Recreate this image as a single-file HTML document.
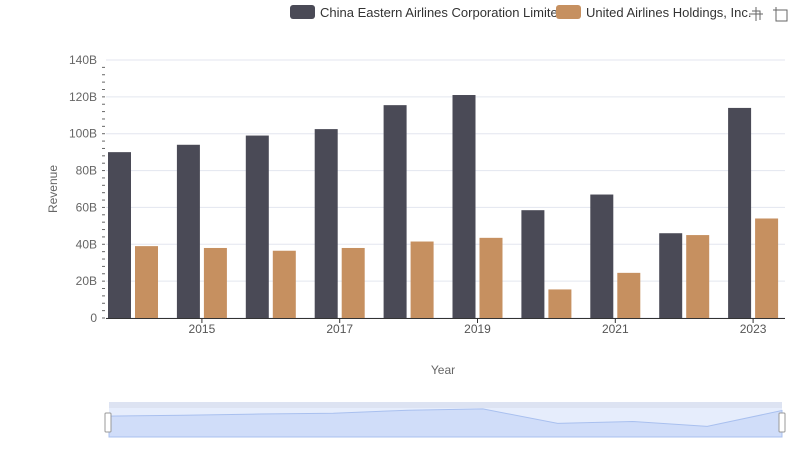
<!DOCTYPE html>
<html><head><meta charset="utf-8"><style>
body{margin:0;background:#fff;font-family:"Liberation Sans",sans-serif}
</style></head><body>
<svg id="c" width="800" height="461" xmlns="http://www.w3.org/2000/svg">
<g>
<rect x="290" y="5" width="25" height="14" rx="3" fill="#4a4a56"/>
<text x="320" y="17" font-size="13" fill="#333">China Eastern Airlines Corporation Limited</text>
<rect x="556" y="5" width="25" height="14" rx="3" fill="#c69060"/>
<text x="586" y="17" font-size="13" fill="#333">United Airlines Holdings, Inc.</text>
<g stroke="#666" fill="none" stroke-width="1"><path d="M749 14h14M756 7v14M752 11h8v9"/></g>
<g stroke="#666" fill="none" stroke-width="1"><path d="M776 10h11v11h-11zM776 10v-3M776 10h-3"/></g>
</g>
<g id="grid"></g>
<g id="bars"></g>
<g id="axes"></g>
<text x="57" y="189" font-size="12" fill="#666" text-anchor="middle" transform="rotate(-90 57 189)">Revenue</text>
<text x="443" y="374" font-size="12" fill="#666" text-anchor="middle">Year</text>
<g>
<rect x="109" y="402" width="673" height="6" fill="#dde3f2"/>
<rect x="109" y="408" width="673" height="29" fill="#e6edfc"/>
<path id="navArea" fill="#d0ddf9" stroke="#a9c0ef" stroke-width="1"/>
<rect x="105" y="413" width="6" height="19" rx="1" fill="#fff" stroke="#999"/>
<rect x="779" y="413" width="6" height="19" rx="1" fill="#fff" stroke="#999"/>
</g>
</svg>
<script>
const years=["2014","2015","2016","2017","2018","2019","2020","2021","2022","2023"];
const chinaEastern=[90,94,99,102.5,115.5,121,58.5,67,46,114];
const united=[39,38,36.5,38,41.5,43.5,15.5,24.5,45,54];
const yTicks=[0,20,40,60,80,100,120,140];
const xTickLabels=["2015","2017","2019","2021","2023"];
const NS="http://www.w3.org/2000/svg";
const y0=318,y1=60,yMax=140;
function yS(v){return y0-(v/yMax)*(y0-y1);}
function xC(i){return 133+i*68.9;}
function mk(p,tag,a){const e=document.createElementNS(NS,tag);for(const k in a)e.setAttribute(k,a[k]);p.appendChild(e);return e;}
const grid=document.getElementById('grid'),bars=document.getElementById('bars'),axes=document.getElementById('axes');
yTicks.forEach(t=>{
  const l=mk(grid,'line',{x1:106,x2:785,y1:yS(t),y2:yS(t),stroke:'#e3e6ef'});
  
  
  const tx=mk(axes,'text',{x:97,y:yS(t)+4,'font-size':12,fill:'#666','text-anchor':'end'});
  tx.textContent=t===0?'0':t+'B';
  
  
});
for(let v=0;v<140;v+=4){const m=mk(axes,'line',{x1:102,x2:105,y1:yS(v),y2:yS(v),stroke:'#666'});
  
  }
const ax=mk(axes,'line',{x1:106,x2:785,y1:y0+0.5,y2:y0+0.5,stroke:'#333'});


years.forEach((y,i)=>{
  const c=xC(i);
  const b1=mk(bars,'rect',{x:c-25,y:yS(chinaEastern[i]),width:23,height:y0-yS(chinaEastern[i]),fill:'#4a4a56'});
  
  
  const b2=mk(bars,'rect',{x:c+2,y:yS(united[i]),width:23,height:y0-yS(united[i]),fill:'#c69060'});
  
  
  if(xTickLabels.includes(y)){
    const t=mk(axes,'line',{x1:c,x2:c,y1:y0,y2:y0+5,stroke:'#333'});
    
    
    const tx=mk(axes,'text',{x:c,y:333,'font-size':12,fill:'#555','text-anchor':'middle'});
    tx.textContent=y;
    
    
  }
});
// navigator series
const nx0=109,nx1=782,nyB=437,nyT=408;
let d='M'+nx0+' '+nyB;
chinaEastern.forEach((v,i)=>{const x=nx0+i*(nx1-nx0)/(years.length-1);const y=nyB-(v/125)*(nyB-nyT);d+=' L'+x+' '+y;});
d+=' L'+nx1+' '+nyB+' Z';
document.getElementById('navArea').setAttribute('d',d);
</script>
</body></html>
